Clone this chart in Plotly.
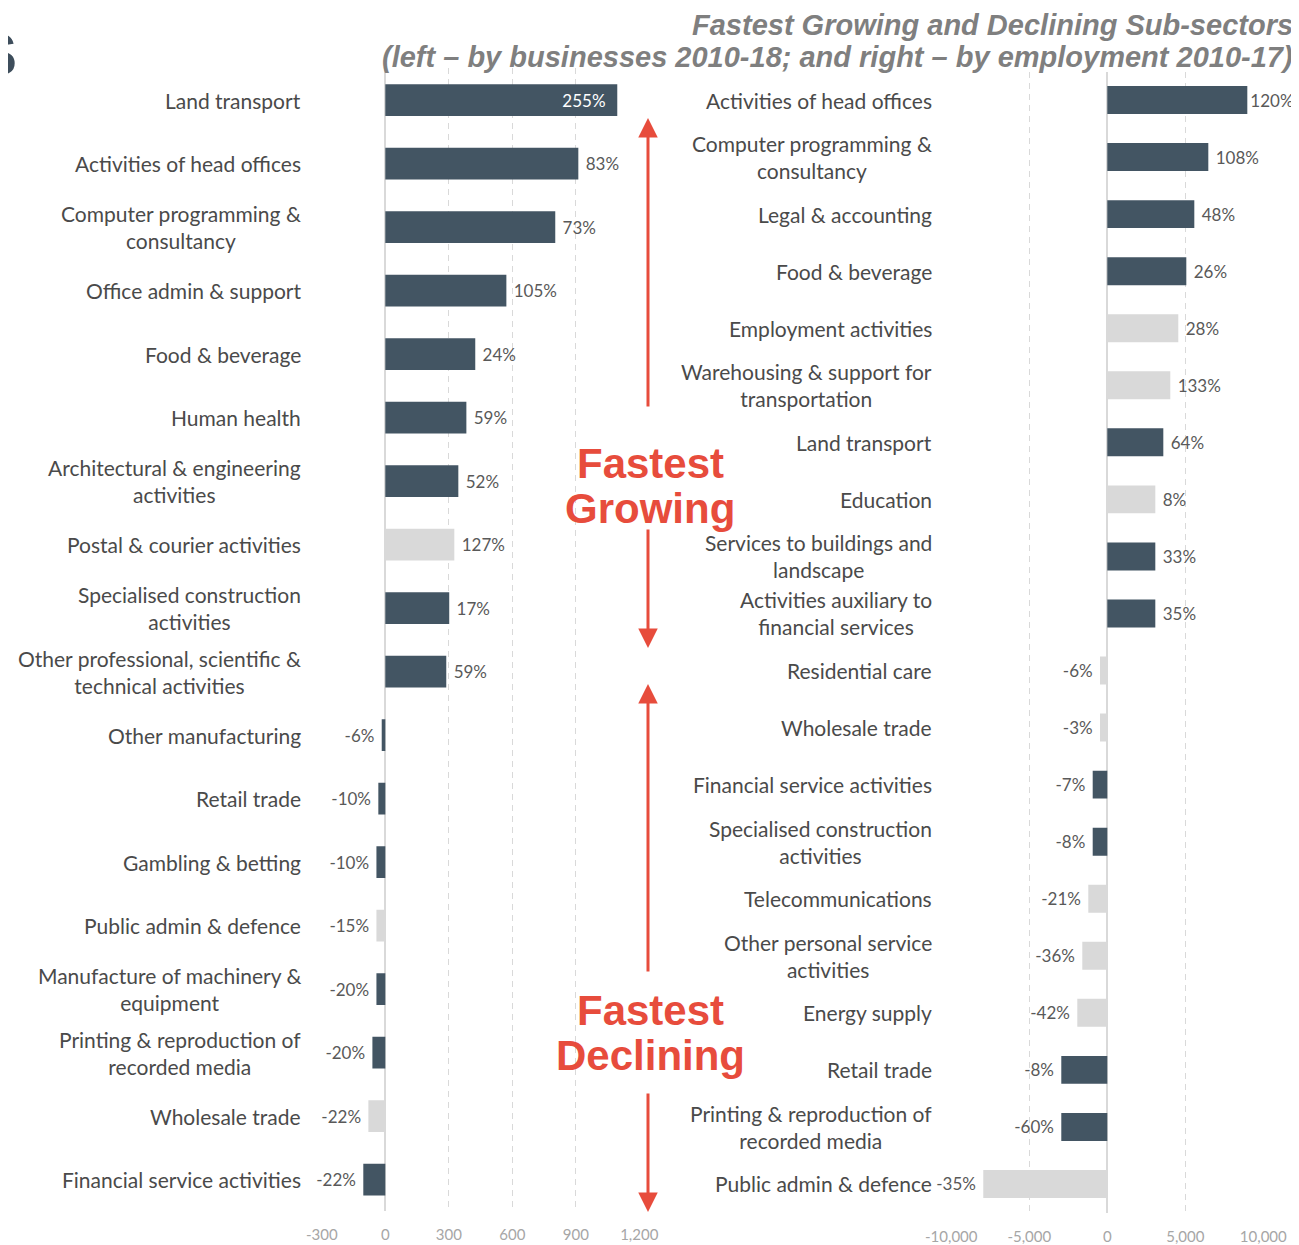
import plotly.graph_objects as go
from plotly.subplots import make_subplots

# page body has an 8px margin, so the figure is drawn 8px in from the top-left
OFF = 8
W, H = 1299 - OFF, 1245 - OFF

# left panel: change in number of businesses 2010-18
left_sectors = [
    "Land transport",
    "Activities of head offices",
    "Computer programming &<br>consultancy",
    "Office admin & support",
    "Food & beverage",
    "Human health",
    "Architectural & engineering<br>activities",
    "Postal & courier activities",
    "Specialised construction<br>activities",
    "Other professional, scientific &<br>technical activities",
    "Other manufacturing",
    "Retail trade",
    "Gambling & betting",
    "Public admin & defence",
    "Manufacture of machinery &<br>equipment",
    "Printing & reproduction of<br>recorded media",
    "Wholesale trade",
    "Financial service activities",
]
left_values = [1096, 912, 803, 572, 425, 383, 345, 326, 302, 288,
               -17, -33, -42, -42, -42, -61, -80, -104]
left_pct = ["255%", "83%", "73%", "105%", "24%", "59%", "52%", "127%", "17%", "59%",
            "-6%", "-10%", "-10%", "-15%", "-20%", "-20%", "-22%", "-22%"]
left_dark = [True, True, True, True, True, True, True, False, True, True,
             True, True, True, False, True, True, False, True]
left_ticks = [-300, 0, 300, 600, 900, 1200]
left_tick_text = ["-300", "0", "300", "600", "900", "1,200"]

# right panel: change in employment 2010-17
right_sectors = [
    "Activities of head offices",
    "Computer programming &<br>consultancy",
    "Legal & accounting",
    "Food & beverage",
    "Employment activities",
    "Warehousing & support for<br>transportation",
    "Land transport",
    "Education",
    "Services to buildings and<br>landscape",
    "Activities auxiliary to<br>financial services",
    "Residential care",
    "Wholesale trade",
    "Financial service activities",
    "Specialised construction<br>activities",
    "Telecommunications",
    "Other personal service<br>activities",
    "Energy supply",
    "Retail trade",
    "Printing & reproduction of<br>recorded media",
    "Public admin & defence",
]
right_values = [8974, 6474, 5577, 5064, 4551, 4038, 3590, 3077, 3077, 3077,
                -468, -468, -936, -936, -1218, -1603, -1923, -2949, -2949, -7949]
right_pct = ["120%", "108%", "48%", "26%", "28%", "133%", "64%", "8%", "33%", "35%",
             "-6%", "-3%", "-7%", "-8%", "-21%", "-36%", "-42%", "-8%", "-60%", "-35%"]
right_dark = [True, True, True, True, False, False, True, False, True, True,
              False, False, True, True, False, False, False, True, True, False]
right_ticks = [-10000, -5000, 0, 5000, 10000]
right_tick_text = ["-10,000", "-5,000", "0", "5,000", "10,000"]

DARK = "#435563"
LIGHT = "#d9d9d9"
RED = "#e74c3c"
GRID = "#d9d9d9"
TXT = "#4a4a4a"
NB = "\u00a0"


def px_x(p):
    return (p - OFF) / W


def px_y(p):
    return 1 - (p - OFF) / H


fig = make_subplots(rows=1, cols=2)

fig.add_trace(go.Bar(
    y=left_sectors, x=left_values, orientation="h",
    marker=dict(color=[DARK if d else LIGHT for d in left_dark], line=dict(width=0)),
    width=0.5,
    text=[(t + NB + NB) if v > 1000 else (NB + t if v > 0 else t + NB)
          for t, v in zip(left_pct, left_values)],
    textposition=["inside" if v > 1000 else "outside" for v in left_values],
    insidetextanchor="end",
    insidetextfont=dict(family="Lato", size=17, color="white"),
    outsidetextfont=dict(family="Lato", size=17, color="#595959"),
    constraintext="none", textangle=0, cliponaxis=False,
    hoverinfo="skip",
), row=1, col=1)

fig.add_trace(go.Bar(
    y=right_sectors, x=right_values, orientation="h",
    marker=dict(color=[DARK if d else LIGHT for d in right_dark], line=dict(width=0)),
    width=0.49,
    # the longest bar has no room left, so its label sits tight to the bar
    text=[(t if v > 8000 else NB + t) if v > 0 else t + NB
          for t, v in zip(right_pct, right_values)],
    textposition="outside",
    outsidetextfont=dict(family="Lato", size=17, color="#595959"),
    constraintext="none", textangle=0, cliponaxis=False,
    hoverinfo="skip",
), row=1, col=2)

axis_common = dict(
    showgrid=True, gridcolor=GRID, griddash="6px,5px", gridwidth=1,
    zeroline=True, zerolinecolor=GRID, zerolinewidth=1.5,
    showline=False, ticks="",
    tickfont=dict(family="Lato", size=15, color="#a6a6a6"),
    ticklabelstandoff=13, fixedrange=True,
)

fig.update_layout(
    xaxis=dict(range=[-302, 1202], tickvals=left_ticks, ticktext=left_tick_text,
               domain=[px_x(321.4), px_x(639.7)], **axis_common),
    xaxis2=dict(range=[-10050, 10050], tickvals=right_ticks, ticktext=right_tick_text,
                domain=[px_x(950.5), px_x(1264.1)], **axis_common),
    yaxis=dict(type="category", categoryarray=left_sectors, autorange="reversed",
               showticklabels=False, showgrid=False, zeroline=False,
               domain=[px_y(1211.25), px_y(68.25)]),
    yaxis2=dict(type="category", categoryarray=right_sectors, autorange="reversed",
                showticklabels=False, showgrid=False, zeroline=False,
                domain=[px_y(1212.5), px_y(71.5)]),
    width=W, height=H,
    margin=dict(l=0, r=0, t=0, b=0, autoexpand=False),
    plot_bgcolor="white", paper_bgcolor="white",
    showlegend=False,
    bargap=0.5,
)

annotations = []

# category labels, centred lines, right edge next to the plot
for name in left_sectors:
    annotations.append(dict(
        x=px_x(303), xref="paper", y=name, yref="y", text=name,
        xanchor="right", yanchor="middle", align="center", showarrow=False,
        font=dict(family="Lato", size=21, color=TXT),
    ))
for name in right_sectors:
    annotations.append(dict(
        x=px_x(934), xref="paper", y=name, yref="y2", text=name,
        xanchor="right", yanchor="middle", align="center", showarrow=False,
        font=dict(family="Lato", size=21, color=TXT),
    ))

# title
title_font = dict(family="Liberation Sans", size=29, color="#7f7f7f",
                  weight="bold", style="italic")
annotations.append(dict(x=px_x(1295), y=px_y(25), xref="paper", yref="paper",
                        text="Fastest Growing and Declining Sub-sectors",
                        xanchor="right", yanchor="middle", showarrow=False,
                        font=title_font))
annotations.append(dict(x=px_x(1295), y=px_y(57), xref="paper", yref="paper",
                        text="(left \u2013 by businesses 2010-18; and right \u2013 by employment 2010-17)",
                        xanchor="right", yanchor="middle", showarrow=False,
                        font=title_font))

# cut-off heading letter at top left
annotations.append(dict(x=px_x(19), y=px_y(54), xref="paper", yref="paper",
                        text="S", xanchor="right", yanchor="middle", showarrow=False,
                        font=dict(family="Liberation Sans", size=60, color="#3e4e5c",
                                  weight="bold")))

# red callouts
red_font = dict(family="Liberation Sans", size=42, color=RED, weight="bold")
for word, yy in [("Fastest", 463), ("Growing", 508), ("Fastest", 1010), ("Declining", 1055)]:
    annotations.append(dict(x=px_x(650), y=px_y(yy), xref="paper", yref="paper",
                            text=word, xanchor="center", yanchor="middle",
                            showarrow=False, font=red_font))

# arrows: (tip, tail) in pixels
for tip, tail in [(118, 408), (648, 528), (684, 973), (1212, 1092)]:
    annotations.append(dict(x=px_x(648), y=px_y(tip), xref="paper", yref="paper",
                            ax=0, ay=tail - tip, axref="pixel", ayref="pixel",
                            text="", showarrow=True, arrowhead=2, arrowsize=1.3,
                            arrowwidth=3, arrowcolor=RED, standoff=0, startstandoff=0))

fig.update_layout(annotations=annotations)

fig.write_html("out.html")
